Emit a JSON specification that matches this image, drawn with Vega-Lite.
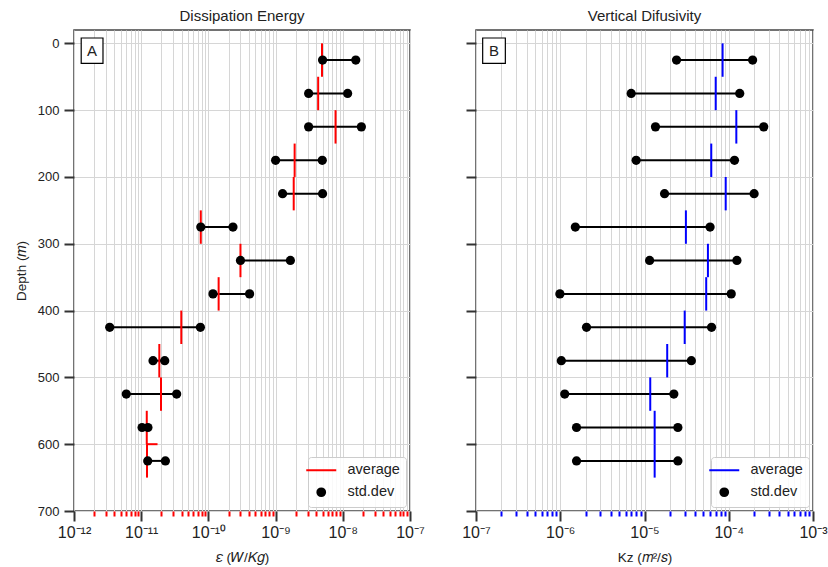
{
  "$schema": "https://vega.github.io/schema/vega-lite/v6.json",
  "padding": {"left": 13, "top": 8, "right": 5, "bottom": 3},
  "bounds": "flush",
  "spacing": 66,
  "config": {
    "font": "Liberation Sans",
    "view": {"stroke": "#444444", "strokeWidth": 1.5},
    "axis": {"labelFontSize": 13, "titleFontSize": 13.5, "titleFontWeight": "normal", "labelColor": "#222222", "titleColor": "#222222", "gridColor": "#d6d6d6", "gridWidth": 1},
    "title": {"fontSize": 15, "fontWeight": "normal", "color": "#222222", "offset": 6},
    "legend": {"labelFontSize": 14.5, "labelColor": "#222222"}
  },
  "datasets": {
    "eps": [
      {"depth": 25, "d0": 0, "d1": 50, "lo": 5.0e-9, "hi": 1.56e-8, "avg": 4.9e-9},
      {"depth": 75, "d0": 50, "d1": 100, "lo": 3.1e-9, "hi": 1.18e-8, "avg": 4.3e-9},
      {"depth": 125, "d0": 100, "d1": 150, "lo": 3.1e-9, "hi": 1.89e-8, "avg": 7.8e-9},
      {"depth": 175, "d0": 150, "d1": 200, "lo": 1.0e-9, "hi": 4.95e-9, "avg": 1.92e-9},
      {"depth": 225, "d0": 200, "d1": 250, "lo": 1.27e-9, "hi": 5.0e-9, "avg": 1.86e-9},
      {"depth": 275, "d0": 250, "d1": 300, "lo": 7.7e-11, "hi": 2.32e-10, "avg": 7.7e-11},
      {"depth": 325, "d0": 300, "d1": 350, "lo": 3.0e-10, "hi": 1.66e-9, "avg": 3.0e-10},
      {"depth": 375, "d0": 350, "d1": 400, "lo": 1.17e-10, "hi": 4.1e-10, "avg": 1.42e-10},
      {"depth": 425, "d0": 400, "d1": 450, "lo": 3.4e-12, "hi": 7.6e-11, "avg": 3.95e-11},
      {"depth": 475, "d0": 450, "d1": 500, "lo": 1.5e-11, "hi": 2.24e-11, "avg": 1.86e-11},
      {"depth": 525, "d0": 500, "d1": 550, "lo": 6.0e-12, "hi": 3.37e-11, "avg": 1.97e-11},
      {"depth": 575, "d0": 550, "d1": 600, "lo": 1.03e-11, "hi": 1.26e-11, "avg": 1.21e-11},
      {"depth": 625, "d0": 600, "d1": 650, "lo": 1.25e-11, "hi": 2.29e-11, "avg": 1.22e-11}
    ],
    "epsStep": [
      {"depth": 600, "from": 1.2e-11, "to": 1.75e-11}
    ],
    "kz": [
      {"depth": 25, "d0": 0, "d1": 50, "lo": 2.4e-5, "hi": 1.92e-4, "avg": 8.45e-5},
      {"depth": 75, "d0": 50, "d1": 100, "lo": 6.95e-6, "hi": 1.35e-4, "avg": 7.0e-5},
      {"depth": 125, "d0": 100, "d1": 150, "lo": 1.35e-5, "hi": 2.6e-4, "avg": 1.23e-4},
      {"depth": 175, "d0": 150, "d1": 200, "lo": 7.96e-6, "hi": 1.17e-4, "avg": 6.2e-5},
      {"depth": 225, "d0": 200, "d1": 250, "lo": 1.73e-5, "hi": 2.0e-4, "avg": 9.2e-5},
      {"depth": 275, "d0": 250, "d1": 300, "lo": 1.51e-6, "hi": 6.0e-5, "avg": 3.1e-5},
      {"depth": 325, "d0": 300, "d1": 350, "lo": 1.15e-5, "hi": 1.25e-4, "avg": 5.66e-5},
      {"depth": 375, "d0": 350, "d1": 400, "lo": 9.9e-7, "hi": 1.07e-4, "avg": 5.4e-5},
      {"depth": 425, "d0": 400, "d1": 450, "lo": 2.05e-6, "hi": 6.25e-5, "avg": 3.0e-5},
      {"depth": 475, "d0": 450, "d1": 500, "lo": 1.03e-6, "hi": 3.6e-5, "avg": 1.86e-5},
      {"depth": 525, "d0": 500, "d1": 550, "lo": 1.13e-6, "hi": 2.23e-5, "avg": 1.17e-5},
      {"depth": 575, "d0": 550, "d1": 600, "lo": 1.56e-6, "hi": 2.49e-5, "avg": 1.32e-5},
      {"depth": 625, "d0": 600, "d1": 650, "lo": 1.56e-6, "hi": 2.49e-5, "avg": 1.32e-5}
    ]
  },
  "resolve": {"scale": {"color": "independent"}},
  "hconcat": [
    {
      "title": "Dissipation Energy",
      "width": 336,
      "height": 481,
      "data": {"name": "eps"},
      "resolve": {"axis": {"x": "independent", "y": "independent"}},
      "layer": [
        {
          "mark": {"type": "rule", "color": "#000000", "strokeWidth": 2},
          "encoding": {
            "x": {"field": "lo", "type": "quantitative",
              "scale": {"type": "log", "domain": [1e-12, 1e-7], "nice": false},
              "axis": {"orient": "bottom", "values": [2e-12,3e-12,4e-12,5e-12,6e-12,7e-12,8e-12,9e-12,2e-11,3e-11,4e-11,5e-11,6e-11,7e-11,8e-11,9e-11,2e-10,3e-10,4e-10,5e-10,6e-10,7e-10,8e-10,9e-10,2e-9,3e-9,4e-9,5e-9,6e-9,7e-9,8e-9,9e-9,2e-8,3e-8,4e-8,5e-8,6e-8,7e-8,8e-8,9e-8],
                "grid": true, "labels": false, "domain": false, "title": null, "tickColor": "#ff0000", "tickSize": 5, "tickWidth": 2}},
            "x2": {"field": "hi"},
            "y": {"field": "depth", "type": "quantitative",
              "scale": {"domain": [-20, 700], "reverse": true, "nice": false, "zero": false},
              "axis": {"orient": "left", "values": [0,100,200,300,400,500,600,700], "grid": true, "domain": false, "tickSize": 10, "tickWidth": 2, "tickColor": "#333333", "labelPadding": 5, "title": "Depth (𝑚)", "titlePadding": 9}}
          }
        },
        {
          "data": {"name": "epsStep"},
          "mark": {"type": "rule", "color": "#ff0000", "strokeWidth": 2},
          "encoding": {
            "x": {"field": "from", "type": "quantitative", "axis": null},
            "x2": {"field": "to"},
            "y": {"field": "depth", "type": "quantitative", "axis": null}
          }
        },
        {
          "mark": {"type": "rule", "strokeWidth": 2},
          "encoding": {
            "x": {"field": "avg", "type": "quantitative", "axis": null},
            "y": {"field": "d0", "type": "quantitative", "axis": null},
            "y2": {"field": "d1"},
            "color": {"datum": "average", "type": "nominal",
              "scale": {"domain": ["average", "std.dev"], "range": ["#ff0000", "#000000"]},
              "legend": {"title": null, "orient": "bottom-right", "offset": 4, "padding": 6, "strokeColor": "#cccccc", "fillColor": "rgba(255,255,255,0.85)", "cornerRadius": 3, "symbolSize": 900, "symbolStrokeWidth": 2, "rowPadding": 7, "labelOffset": 19,
                "encode": {"symbols": {"update": {
                  "shape": {"signal": "datum.value === 'average' ? 'stroke' : 'circle'"},
                  "size": {"signal": "datum.value === 'average' ? 900 : 60"},
                  "stroke": {"signal": "datum.value === 'average' ? '#ff0000' : 'transparent'"},
                  "fill": {"signal": "datum.value === 'average' ? 'transparent' : '#000000'"},
                  "strokeWidth": {"value": 2}
                }}}}}
          }
        },
        {
          "mark": {"type": "point", "filled": true, "size": 85, "opacity": 1},
          "encoding": {
            "x": {"field": "lo", "type": "quantitative",
              "axis": {"orient": "bottom", "values": [1e-12, 1e-11, 1e-10, 1e-9, 1e-8, 1e-7], "grid": true, "domain": false, "tickSize": 10, "tickWidth": 2, "tickColor": "#333333", "labelPadding": 3, "labelFontSize": 16, "labelFlush": false, "labelOverlap": false,
                "labelExpr": "'10⁻' + (abs(round(log(datum.value)/LN10)) >= 10 ? '¹' : '') + substring('⁰¹²³⁴⁵⁶⁷⁸⁹', abs(round(log(datum.value)/LN10)) % 10, abs(round(log(datum.value)/LN10)) % 10 + 1)",
                "title": "𝜀 (𝑊/𝐾𝑔)", "titlePadding": 10}},
            "y": {"field": "depth", "type": "quantitative", "axis": null},
            "color": {"datum": "std.dev", "type": "nominal"}
          }
        },
        {
          "mark": {"type": "point", "filled": true, "size": 85, "opacity": 1},
          "encoding": {
            "x": {"field": "hi", "type": "quantitative", "axis": null},
            "y": {"field": "depth", "type": "quantitative", "axis": null},
            "color": {"datum": "std.dev", "type": "nominal"}
          }
        },
        {
          "data": {"values": [{}]},
          "mark": {"type": "rect", "fill": "#ffffff", "stroke": "#000000", "strokeWidth": 1.2},
          "encoding": {
            "x": {"datum": 1.28e-12, "type": "quantitative", "axis": null},
            "x2": {"datum": 2.7e-12},
            "y": {"datum": -8, "type": "quantitative", "axis": null},
            "y2": {"datum": 30}
          }
        },
        {
          "data": {"values": [{}]},
          "mark": {"type": "text", "text": "A", "fontSize": 15, "color": "#222222", "align": "center", "baseline": "middle"},
          "encoding": {
            "x": {"datum": 1.86e-12, "type": "quantitative", "axis": null},
            "y": {"datum": 11, "type": "quantitative", "axis": null}
          }
        }
      ]
    },
    {
      "title": "Vertical Difusivity",
      "width": 337,
      "height": 481,
      "data": {"name": "kz"},
      "resolve": {"axis": {"x": "independent", "y": "independent"}},
      "layer": [
        {
          "mark": {"type": "rule", "color": "#000000", "strokeWidth": 2},
          "encoding": {
            "x": {"field": "lo", "type": "quantitative",
              "scale": {"type": "log", "domain": [1e-7, 1e-3], "nice": false},
              "axis": {"orient": "bottom", "values": [2e-7,3e-7,4e-7,5e-7,6e-7,7e-7,8e-7,9e-7,2e-6,3e-6,4e-6,5e-6,6e-6,7e-6,8e-6,9e-6,2e-5,3e-5,4e-5,5e-5,6e-5,7e-5,8e-5,9e-5,2e-4,3e-4,4e-4,5e-4,6e-4,7e-4,8e-4,9e-4],
                "grid": true, "labels": false, "domain": false, "title": null, "tickColor": "#0000ff", "tickSize": 5, "tickWidth": 2}},
            "x2": {"field": "hi"},
            "y": {"field": "depth", "type": "quantitative",
              "scale": {"domain": [-20, 700], "reverse": true, "nice": false, "zero": false},
              "axis": {"orient": "left", "values": [0,100,200,300,400,500,600,700], "grid": true, "domain": false, "tickSize": 10, "tickWidth": 2, "tickColor": "#333333", "labels": false, "title": null}}
          }
        },
        {
          "mark": {"type": "rule", "strokeWidth": 2},
          "encoding": {
            "x": {"field": "avg", "type": "quantitative", "axis": null},
            "y": {"field": "d0", "type": "quantitative", "axis": null},
            "y2": {"field": "d1"},
            "color": {"datum": "average", "type": "nominal",
              "scale": {"domain": ["average", "std.dev"], "range": ["#0000ff", "#000000"]},
              "legend": {"title": null, "orient": "bottom-right", "offset": 4, "padding": 6, "strokeColor": "#cccccc", "fillColor": "rgba(255,255,255,0.85)", "cornerRadius": 3, "symbolSize": 900, "symbolStrokeWidth": 2, "rowPadding": 7, "labelOffset": 19,
                "encode": {"symbols": {"update": {
                  "shape": {"signal": "datum.value === 'average' ? 'stroke' : 'circle'"},
                  "size": {"signal": "datum.value === 'average' ? 900 : 60"},
                  "stroke": {"signal": "datum.value === 'average' ? '#0000ff' : 'transparent'"},
                  "fill": {"signal": "datum.value === 'average' ? 'transparent' : '#000000'"},
                  "strokeWidth": {"value": 2}
                }}}}}
          }
        },
        {
          "mark": {"type": "point", "filled": true, "size": 85, "opacity": 1},
          "encoding": {
            "x": {"field": "lo", "type": "quantitative",
              "axis": {"orient": "bottom", "values": [1e-7, 1e-6, 1e-5, 1e-4, 1e-3], "grid": true, "domain": false, "tickSize": 10, "tickWidth": 2, "tickColor": "#333333", "labelPadding": 3, "labelFontSize": 16, "labelFlush": false, "labelOverlap": false,
                "labelExpr": "'10⁻' + (abs(round(log(datum.value)/LN10)) >= 10 ? '¹' : '') + substring('⁰¹²³⁴⁵⁶⁷⁸⁹', abs(round(log(datum.value)/LN10)) % 10, abs(round(log(datum.value)/LN10)) % 10 + 1)",
                "title": "Kz (𝑚²/𝑠)", "titlePadding": 10}},
            "y": {"field": "depth", "type": "quantitative", "axis": null},
            "color": {"datum": "std.dev", "type": "nominal"}
          }
        },
        {
          "mark": {"type": "point", "filled": true, "size": 85, "opacity": 1},
          "encoding": {
            "x": {"field": "hi", "type": "quantitative", "axis": null},
            "y": {"field": "depth", "type": "quantitative", "axis": null},
            "color": {"datum": "std.dev", "type": "nominal"}
          }
        },
        {
          "data": {"values": [{}]},
          "mark": {"type": "rect", "fill": "#ffffff", "stroke": "#000000", "strokeWidth": 1.2},
          "encoding": {
            "x": {"datum": 1.2e-7, "type": "quantitative", "axis": null},
            "x2": {"datum": 2.23e-7},
            "y": {"datum": -8, "type": "quantitative", "axis": null},
            "y2": {"datum": 30}
          }
        },
        {
          "data": {"values": [{}]},
          "mark": {"type": "text", "text": "B", "fontSize": 15, "color": "#222222", "align": "center", "baseline": "middle"},
          "encoding": {
            "x": {"datum": 1.64e-7, "type": "quantitative", "axis": null},
            "y": {"datum": 11, "type": "quantitative", "axis": null}
          }
        }
      ]
    }
  ]
}
